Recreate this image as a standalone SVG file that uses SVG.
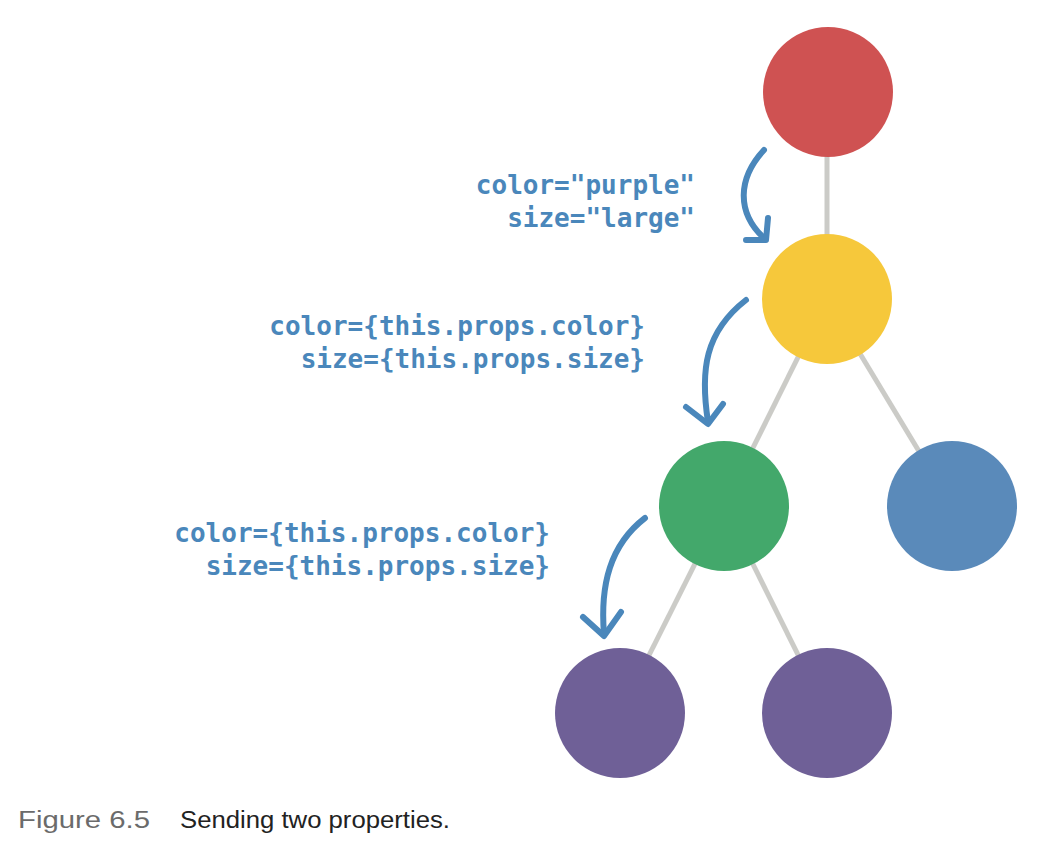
<svg xmlns="http://www.w3.org/2000/svg" width="1046" height="846" viewBox="0 0 1046 846">
<style>
.edge{stroke:#cbcbc7;stroke-width:5;fill:none}
.arr{stroke:#4a87bb;stroke-width:6;fill:none;stroke-linecap:round;stroke-linejoin:round}
.code{font-family:"DejaVu Sans Mono","Liberation Mono",monospace;font-weight:bold;font-size:26px;fill:#4a87bb;text-anchor:end}
.cap{font-family:"Liberation Sans","Noto Sans",sans-serif;font-size:23px}
</style>
<rect width="1046" height="846" fill="#ffffff"/>
<g id="connectors">
<line class="edge" x1="827" y1="92" x2="827" y2="299"/>
<line class="edge" x1="827" y1="299" x2="724" y2="506"/>
<line class="edge" x1="827" y1="299" x2="952" y2="506"/>
<line class="edge" x1="724" y1="506" x2="620" y2="713"/>
<line class="edge" x1="724" y1="506" x2="827" y2="713"/>
</g>
<g id="node-red"><circle cx="828" cy="92" r="65" fill="#cf5252"/></g>
<g id="node-yellow"><circle cx="827" cy="299" r="65" fill="#f6c83b"/></g>
<g id="node-green"><circle cx="724" cy="506" r="65" fill="#43a86b"/></g>
<g id="node-blue"><circle cx="952" cy="506" r="65" fill="#5a8aba"/></g>
<g id="node-purple1"><circle cx="620" cy="713" r="65" fill="#6f6097"/></g>
<g id="node-purple2"><circle cx="827" cy="713" r="65" fill="#6f6097"/></g>
<g id="arrows">
<path class="arr" d="M764 150 C738 178 736 212 764 238"/>
<path class="arr" d="M746 240 L766 240 L768 218"/>
<path class="arr" d="M746 300 C705 332 700 370 708 422"/>
<path class="arr" d="M686 407 L708 424 L723 404"/>
<path class="arr" d="M645 518 C610 545 600 585 604 634"/>
<path class="arr" d="M583 617 L604 636 L621 612"/>
</g>
<g id="labels">
<text class="code" x="695" y="194">color="purple"</text>
<text class="code" x="695" y="227">size="large"</text>
<text class="code" x="645" y="335">color={this.props.color}</text>
<text class="code" x="645" y="368">size={this.props.size}</text>
<text class="code" x="550" y="542">color={this.props.color}</text>
<text class="code" x="550" y="575">size={this.props.size}</text>
</g>
<g id="caption">
<text class="cap" x="18" y="828" fill="#6b6b6b" textLength="132" lengthAdjust="spacingAndGlyphs">Figure 6.5</text>
<text class="cap" x="180" y="828" fill="#222222" textLength="270" lengthAdjust="spacingAndGlyphs">Sending two properties.</text>
</g>
</svg>
